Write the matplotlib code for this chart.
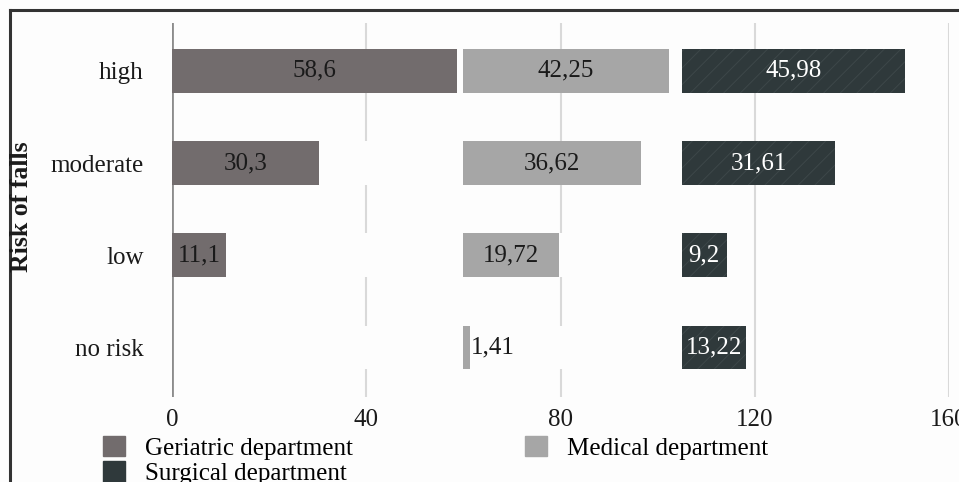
import numpy as np
import matplotlib.pyplot as plt
from matplotlib.lines import Line2D
from matplotlib.patches import Patch

# data
risk = ["no risk", "low", "moderate", "high"]
geriatric = [0, 11.1, 30.3, 58.6]
medical = [1.41, 19.72, 36.62, 42.25]
surgical = [13.22, 9.2, 31.61, 45.98]
xticks = [0, 40, 80, 120, 160]

# where each department's bars begin on the shared axis
med_start = 60
sur_start = 105

plt.rcParams['font.family'] = ['Liberation Serif', 'DejaVu Serif']
plt.rcParams['hatch.linewidth'] = 0.7

c_ger = "#726c6d"
c_med = "#a6a6a6"
c_sur = "#2f393b"

def fmt(v):
    return str(v).replace('.', ',')

fig = plt.figure(figsize=(9.59, 4.82), dpi=100)
fig.patch.set_facecolor("#fdfdfd")
ax = fig.add_axes([172/959, 1-397/482, (949-172)/959, (397-23)/482])
ax.set_facecolor("#fdfdfd")

y = np.arange(len(risk))
h = 0.47
ger = np.array(geriatric)
med = np.array(medical)
sur = np.array(surgical)

# white spacers hide the grid between groups
ax.barh(y, med_start - ger, left=ger, height=h, color="#fdfdfd", zorder=2)
ax.barh(y, sur_start - (med_start + med), left=med_start + med, height=h,
        color="#fdfdfd", zorder=2)
ax.axvline(0, color="#8c8c8c", lw=2, zorder=2.5)

b1 = ax.barh(y, ger, left=0, height=h, color=c_ger, zorder=3)
b2 = ax.barh(y, med, left=med_start, height=h, color=c_med, zorder=3)
b3 = ax.barh(y, sur, left=sur_start, height=h, color=c_sur, zorder=3,
             hatch='//', edgecolor="#3d4749", linewidth=0)

fs = 18
for i in range(len(risk)):
    if ger[i] > 0:
        ax.text(ger[i] / 2, y[i], fmt(geriatric[i]), ha='center', va='center',
                fontsize=fs, color="#1a1a1a", zorder=4)
    if med[i] > 5:
        ax.text(med_start + med[i] / 2, y[i], fmt(medical[i]), ha='center',
                va='center', fontsize=fs, color="#1a1a1a", zorder=4)
    else:
        ax.text(med_start + med[i] + 0.2, y[i], fmt(medical[i]), ha='left',
                va='center', fontsize=fs, color="#1a1a1a", zorder=4)
    ax.text(sur_start + sur[i] / 2, y[i], fmt(surgical[i]), ha='center',
            va='center', fontsize=fs, color="white", zorder=4)

ax.set_xlim(0, 160)
ax.set_ylim(-0.54, 3.52)
ax.set_xticks(xticks)
ax.set_yticks(y)
ax.set_yticklabels(risk)
ax.tick_params(axis='both', length=0, labelsize=fs, colors="#1a1a1a")
ax.tick_params(axis='y', pad=20.5)
ax.tick_params(axis='x', pad=9)
for x in xticks[1:]:
    ax.axvline(x, color="#d9d9d9", lw=1.5, zorder=1)
for s in ax.spines.values():
    s.set_visible(False)

fig.text(22/959, 1-207/482, "Risk of falls", rotation=90, fontsize=18.5,
         fontweight='bold', ha='center', va='center', color="#1a1a1a")

handles = [Patch(color=c_ger, label="Geriatric department"),
           Patch(color=c_sur, label="Surgical department"),
           Patch(color=c_med, label="Medical department")]
fig.legend(handles=handles, ncol=2, loc='upper left', frameon=False,
           bbox_to_anchor=(103/959, 1-436/482), fontsize=fs, borderpad=0,
           handlelength=0.88, handleheight=0.88, handletextpad=0.8,
           labelspacing=0.05, columnspacing=6.9, borderaxespad=0)

# figure frame (cut at right and bottom)
fig.add_artist(Line2D([10/959, 10/959], [0, 1-10/482], color="#333333", lw=2.2))
fig.add_artist(Line2D([10/959, 1], [1-10/482, 1-10/482], color="#333333", lw=2.2))

plt.savefig("out.png", dpi=100)
